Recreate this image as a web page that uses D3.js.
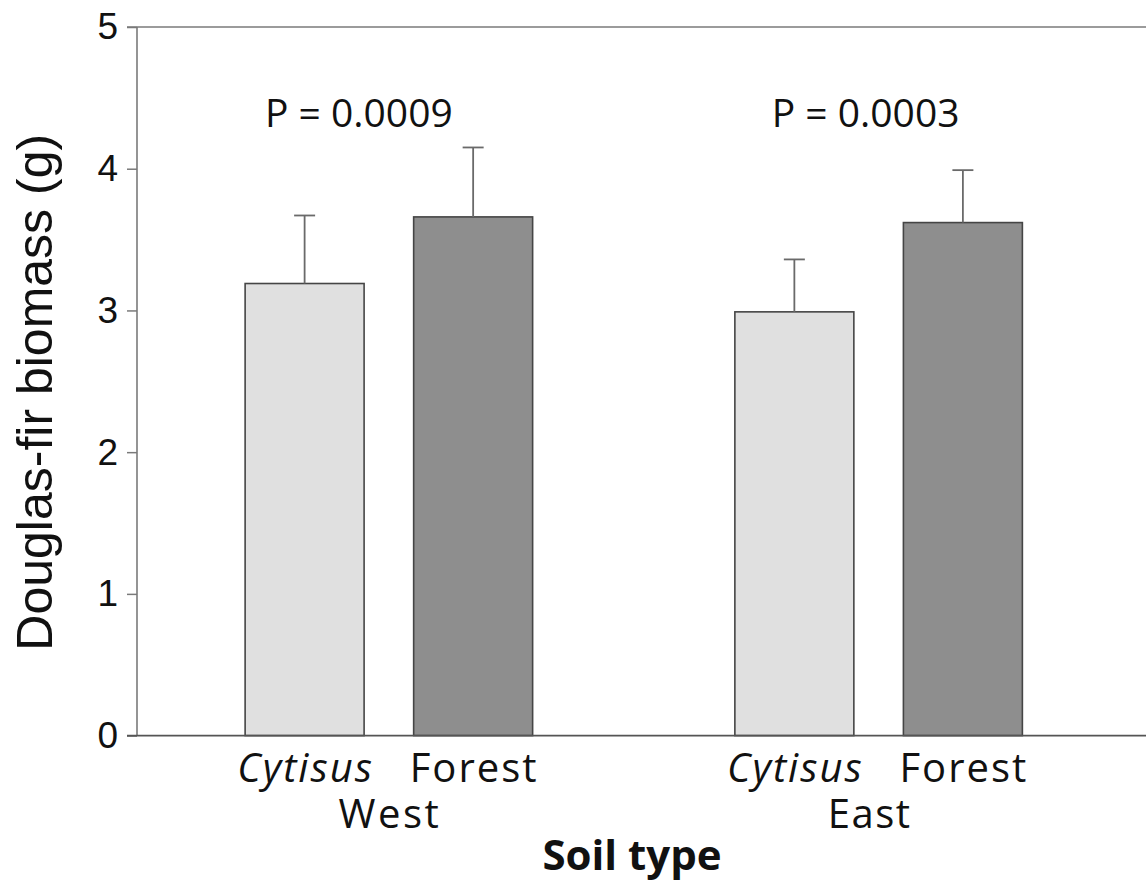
<!DOCTYPE html>
<html>
<head>
<meta charset="utf-8">
<script src="https://cdn.jsdelivr.net/npm/d3@7"></script>
<style>
  html, body { margin: 0; padding: 0; background: #fff; }
  svg { display: block; }
</style>
</head>
<body>
<svg id="chart" width="1146" height="884"></svg>
<script>
// ---- data ----
const groups = ["West", "East"];
const soils = ["Cytisus", "Forest"];
const cytisusMean = [3.19, 2.99];
const forestMean = [3.66, 3.62];
const cytisusErr = [0.48, 0.37];
const forestErr = [0.49, 0.37];
const pLabels = ["P = 0.0009", "P = 0.0003"];
const yTicks = [0, 1, 2, 3, 4, 5];
const yTitle = "Douglas-fir biomass (g)";
const xTitle = "Soil type";

const rows = [];
groups.forEach((g, i) => {
  rows.push({ group: g, soil: "Cytisus", mean: cytisusMean[i], err: cytisusErr[i] });
  rows.push({ group: g, soil: "Forest", mean: forestMean[i], err: forestErr[i] });
});

// ---- layout ----
const svg = d3.select("#chart");
const axisX = 137, rightX = 1146;
const y = d3.scaleLinear().domain([0, 5]).range([735.6, 27]);
const x0 = d3.scaleBand().domain(groups).range([144, 1123.5]).padding(0);
const x1 = d3.scaleBand().domain(soils).range([0, x0.bandwidth()])
  .paddingInner(0.294).paddingOuter(0.6);
const fill = { Cytisus: "#e0e0e0", Forest: "#8e8e8e" };
const sansCal = "'Open Sans', 'Noto Sans', sans-serif";
const sansAr = "'Liberation Sans', Arial, sans-serif";
const axisColor = "#7a7a7a";

// y axis
const yAxis = svg.append("g")
  .attr("transform", `translate(${axisX},0)`)
  .call(d3.axisLeft(y).tickValues(yTicks).tickSize(10).tickPadding(9).tickFormat(d3.format("d")));
yAxis.select(".domain").remove();
yAxis.selectAll(".tick line").attr("stroke", axisColor).attr("stroke-width", 1.5);
yAxis.selectAll(".tick text")
  .attr("font-family", sansAr).attr("font-size", 37).attr("fill", "#111");

// frame lines
svg.append("line").attr("x1", axisX).attr("x2", axisX).attr("y1", y(5)).attr("y2", y(0))
  .attr("stroke", axisColor).attr("stroke-width", 1.6);
svg.append("line").attr("x1", axisX - 10).attr("x2", rightX).attr("y1", y(5)).attr("y2", y(5))
  .attr("stroke", axisColor).attr("stroke-width", 1.6);

// bars
const bars = svg.append("g");
bars.selectAll("rect").data(rows).join("rect")
  .attr("x", d => x0(d.group) + x1(d.soil))
  .attr("y", d => y(d.mean))
  .attr("width", x1.bandwidth())
  .attr("height", d => y(0) - y(d.mean))
  .attr("fill", d => fill[d.soil])
  .attr("stroke", "#454545").attr("stroke-width", 1.6);

// error bars (upper only)
const eb = svg.append("g").attr("stroke", "#6a6a6a").attr("stroke-width", 1.8);
rows.forEach(d => {
  const cx = x0(d.group) + x1(d.soil) + x1.bandwidth() / 2;
  eb.append("line").attr("x1", cx).attr("x2", cx).attr("y1", y(d.mean)).attr("y2", y(d.mean + d.err));
  eb.append("line").attr("x1", cx - 10.5).attr("x2", cx + 10.5)
    .attr("y1", y(d.mean + d.err)).attr("y2", y(d.mean + d.err));
});

// x axis baseline
svg.append("line").attr("x1", axisX - 10).attr("x2", rightX).attr("y1", y(0)).attr("y2", y(0))
  .attr("stroke", "#555").attr("stroke-width", 1.8);

// category labels
svg.append("g").selectAll("text").data(rows).join("text")
  .attr("x", d => x0(d.group) + x1(d.soil) + x1.bandwidth() / 2 + 1)
  .attr("y", 782)
  .attr("text-anchor", "middle")
  .attr("font-family", sansCal).attr("font-size", 40)
  .attr("letter-spacing", "2px")
  .attr("font-style", d => d.soil === "Cytisus" ? "italic" : "normal")
  .attr("fill", "#111")
  .text(d => d.soil);

// group labels
svg.append("g").selectAll("text").data(groups).join("text")
  .attr("x", (d, i) => x0(d) + x0.bandwidth() / 2 + (i === 1 ? -9 : 1))
  .attr("y", 828)
  .attr("text-anchor", "middle")
  .attr("font-family", sansCal).attr("font-size", 40).attr("fill", "#111")
  .attr("letter-spacing", (d, i) => i === 0 ? "2.5px" : "1.5px")
  .text(d => d);

// P-value labels
const pOffset = [-30, -13];
svg.append("g").selectAll("text").data(pLabels).join("text")
  .attr("x", (d, i) => x0(groups[i]) + x0.bandwidth() / 2 + pOffset[i])
  .attr("y", 127)
  .attr("text-anchor", "middle")
  .attr("font-family", sansCal).attr("font-size", 39).attr("fill", "#111")
  .text(d => d);

// axis titles
svg.append("text")
  .attr("transform", `translate(52, ${(y(0) + y(5)) / 2 + 11}) rotate(-90)`)
  .attr("text-anchor", "middle")
  .attr("font-family", sansAr).attr("font-size", 50).attr("fill", "#111")
  .text(yTitle);

svg.append("text")
  .attr("x", 632).attr("y", 870)
  .attr("text-anchor", "middle")
  .attr("font-family", sansCal).attr("font-size", 42).attr("font-weight", "bold").attr("fill", "#111")
  .text(xTitle);
</script>
</body>
</html>
